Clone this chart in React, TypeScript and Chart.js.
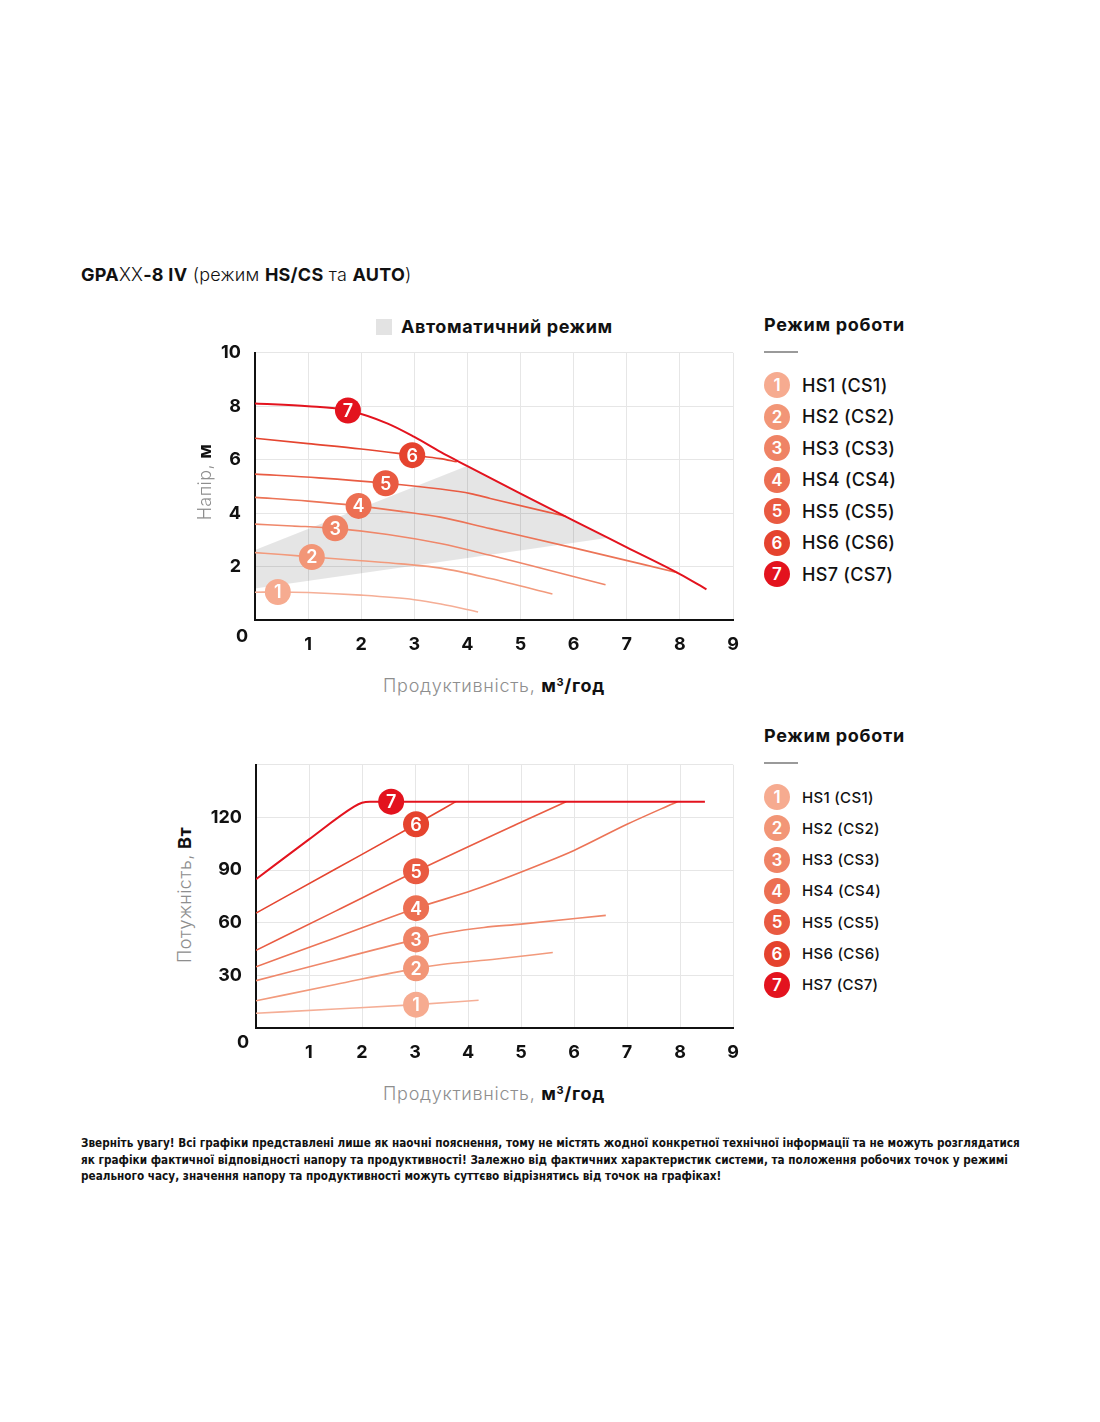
import React, { useEffect, useRef } from "react";
import { Chart, registerables } from "chart.js";

Chart.register(...registerables);

const FONT = "Inter, 'Noto Sans', 'DejaVu Sans', sans-serif";
const NARROW = "'Liberation Sans Narrow', 'DejaVu Sans Condensed', 'Roboto Condensed', sans-serif";

// ---- modes (legend) ----
const modeNumbers = ["1", "2", "3", "4", "5", "6", "7"];
const modeLabels = ["HS1 (CS1)", "HS2 (CS2)", "HS3 (CS3)", "HS4 (CS4)", "HS5 (CS5)", "HS6 (CS6)", "HS7 (CS7)"];
const modeColors = ["#F6AB90", "#F29677", "#EF8365", "#EC6F52", "#E95A41", "#E5432E", "#E3131E"];
const lineColors = ["#F5AE96", "#F29A7C", "#EF876A", "#EC7457", "#E95C43", "#E54530", "#E3131E"];

// ---- head chart: Q (m³/h) vs H (m) ----
const headHS1 = [[0, 1.04], [0.43, 1.05], [1, 1.03], [2, 0.93], [3, 0.76], [3.5, 0.6], [4.2, 0.3]];
const headHS2 = [[0, 2.52], [0.5, 2.45], [1.07, 2.36], [2, 2.22], [2.75, 2.1], [3.5, 1.94], [4.43, 1.55], [5.6, 0.97]];
const headHS3 = [[0, 3.59], [0.7, 3.52], [1.51, 3.43], [2.5, 3.2], [3.49, 2.86], [4.43, 2.42], [5.5, 1.88], [6.6, 1.32]];
const headHS4 = [[0, 4.59], [1, 4.45], [1.95, 4.27], [2.8, 4.05], [3.49, 3.85], [4.43, 3.42], [6, 2.7], [7.96, 1.77]];
const headHS5 = [[0, 5.46], [1.2, 5.32], [2.46, 5.12], [3.49, 4.9], [4.06, 4.73], [4.43, 4.55], [5.85, 3.88]];
const headHS6 = [[0, 6.8], [1, 6.6], [2, 6.4], [2.96, 6.17], [3.49, 6.04], [3.8, 5.92]];
const headHS7 = [[0, 8.1], [1, 8.0], [1.75, 7.84], [2.5, 7.35], [3, 6.85], [3.5, 6.28], [4, 5.76], [5, 4.73], [6, 3.72], [7, 2.72], [8, 1.72], [8.5, 1.15]];
const headMarkerQ = [0.43, 1.07, 1.51, 1.95, 2.46, 2.96, 1.75];
const autoZone = [[0, 2.62], [3.99, 5.76], [6.63, 3.07], [0, 1.18], [0, 2.62]];
const headTicksMax = 10;
const headTickStep = 2;

// ---- power chart: Q (m³/h) vs P (W) ----
const powerHS1 = [[0, 8.4], [1.5, 10.8], [3.02, 13.3], [4.2, 15.8]];
const powerHS2 = [[0, 15.5], [1.5, 24.8], [3.02, 34], [3.5, 36.2], [4.54, 39.3], [5.6, 43]];
const powerHS3 = [[0, 27], [1.5, 38.8], [3.02, 50.5], [3.6, 54.3], [4.3, 57.3], [5, 59.2], [6.6, 64.2]];
const powerHS4 = [[0, 34.9], [1.5, 51.5], [3.02, 68.3], [4.1, 78.6], [5.48, 94.6], [6, 101.2], [7, 116.1], [7.95, 129]];
const powerHS5 = [[0, 44.3], [1.5, 66.6], [3.02, 89.3], [4.98, 117], [5.85, 129]];
const powerHS6 = [[0, 65.5], [1.5, 90.6], [3.02, 116.1], [3.77, 129]];
const powerHS7 = [[0, 84.8], [1, 107.5], [1.85, 126.2], [2.0, 128.4], [2.15, 129], [2.55, 129], [8.47, 129]];
const powerMarkerQ = [3.02, 3.02, 3.02, 3.02, 3.02, 3.02, 2.55];
const powerTicksMax = 150;
const powerTickStep = 30;

const flowMax = 9;

const headSeries = [headHS1, headHS2, headHS3, headHS4, headHS5, headHS6, headHS7];
const powerSeries = [powerHS1, powerHS2, powerHS3, powerHS4, powerHS5, powerHS6, powerHS7];

const toXY = (arr: number[][]) => arr.map(([x, y]) => ({ x, y }));

const markerLabels = {
  id: "markerLabels",
  afterDatasetDraw(chart: any, args: any) {
    const ds = chart.data.datasets[args.index];
    if (ds.markerQ === undefined) return;
    const idx = ds.data.findIndex((p: any) => p.x === ds.markerQ);
    const el = args.meta.data[idx];
    if (!el) return;
    const ctx = chart.ctx;
    ctx.save();
    ctx.fillStyle = "#ffffff";
    ctx.font = `600 18px ${FONT}`;
    ctx.textAlign = "center";
    ctx.textBaseline = "middle";
    ctx.fillText(ds.markerText, el.x, el.y + 1);
    ctx.restore();
  },
};

const cornerZero = {
  id: "cornerZero",
  afterDraw(chart: any, _args: any, opts: any) {
    const { left, bottom } = chart.chartArea;
    const ctx = chart.ctx;
    ctx.save();
    ctx.fillStyle = "#111";
    ctx.font = `700 18px ${FONT}`;
    ctx.textAlign = "center";
    ctx.textBaseline = "middle";
    ctx.fillText("0", left - opts.dx, bottom + opts.dy);
    ctx.restore();
  },
};

function seriesDatasets(series: number[][][], markers: number[]) {
  return series.map((s, i) => ({
    label: modeLabels[i],
    data: toXY(s),
    borderColor: lineColors[i],
    backgroundColor: modeColors[i],
    borderWidth: i === 6 ? 2 : 1.6,
    cubicInterpolationMode: "monotone",
    fill: false,
    order: 7 - i,
    markerQ: markers[i],
    markerText: modeNumbers[i],
    pointRadius: (c: any) => (c.raw && c.raw.x === markers[i] ? 13 : 0),
    pointHoverRadius: (c: any) => (c.raw && c.raw.x === markers[i] ? 13 : 0),
    pointBackgroundColor: modeColors[i],
    pointBorderWidth: 0,
  }));
}

function makeOptions(p: {
  yMax: number;
  yStep: number;
  yWidth: number;
  xHeight: number;
  padTop: number;
  padRight: number;
  zeroDy: number;
}) {
  const tickFont = { family: FONT, size: 18, weight: 700 as any };
  return {
    animation: false,
    responsive: false,
    maintainAspectRatio: false,
    events: [],
    layout: { padding: { top: p.padTop, right: p.padRight, left: 0, bottom: 0 } },
    plugins: {
      legend: { display: false },
      tooltip: { enabled: false },
      cornerZero: { dx: 13, dy: p.zeroDy },
    },
    scales: {
      x: {
        type: "linear",
        min: 0,
        max: flowMax,
        ticks: {
          stepSize: 1,
          padding: 14,
          color: "#111",
          font: tickFont,
          maxRotation: 0,
          autoSkip: false,
          callback: (v: any) => (v === 0 ? "" : String(v)),
        },
        grid: { color: "#e6e6e6", lineWidth: 1, drawTicks: false },
        border: { color: "#111", width: 2 },
        afterFit: (s: any) => {
          s.height = p.xHeight;
        },
      },
      y: {
        type: "linear",
        min: 0,
        max: p.yMax,
        ticks: {
          stepSize: p.yStep,
          padding: 14,
          color: "#111",
          font: tickFont,
          autoSkip: false,
          callback: (v: any) => (v === 0 || (p.yMax === 150 && v === 150) ? "" : String(v)),
        },
        grid: { color: "#e6e6e6", lineWidth: 1, drawTicks: false },
        border: { color: "#111", width: 2 },
        afterFit: (s: any) => {
          s.width = p.yWidth;
        },
      },
    },
  };
}

function headConfig(): any {
  return {
    type: "line",
    data: {
      datasets: [
        ...seriesDatasets(headSeries, headMarkerQ),
        {
          label: "Автоматичний режим",
          data: toXY(autoZone),
          borderWidth: 0,
          borderColor: "rgba(0,0,0,0)",
          backgroundColor: "rgba(0,0,0,0.1)",
          fill: "shape",
          tension: 0,
          pointRadius: 0,
          order: 100,
        },
      ],
    },
    options: makeOptions({ yMax: headTicksMax, yStep: headTickStep, yWidth: 55, xHeight: 50, padTop: 24, padRight: 27, zeroDy: 17 }),
    plugins: [markerLabels, cornerZero],
  };
}

function powerConfig(): any {
  return {
    type: "line",
    data: { datasets: seriesDatasets(powerSeries, powerMarkerQ) },
    options: makeOptions({ yMax: powerTicksMax, yStep: powerTickStep, yWidth: 56, xHeight: 52, padTop: 24, padRight: 27, zeroDy: 15 }),
    plugins: [markerLabels, cornerZero],
  };
}

function ChartCanvas({ config, left, top, width, height }: any) {
  const ref = useRef<HTMLCanvasElement>(null);
  useEffect(() => {
    const chart = new Chart(ref.current as HTMLCanvasElement, config());
    return () => chart.destroy();
  }, []);
  return (
    <canvas
      ref={ref}
      width={width}
      height={height}
      style={{ position: "absolute", left, top, width, height }}
    />
  );
}

function ModeLegend({ top, itemTop, step, fontSize }: any) {
  return (
    <div style={{ position: "absolute", left: 764, top }}>
      <div style={{ fontSize: 18, fontWeight: 700, lineHeight: "22px", whiteSpace: "nowrap", letterSpacing: "0.7px" }}>Режим роботи</div>
      <div style={{ position: "absolute", left: 0, top: 37, width: 34, height: 1.5, background: "#9a9a9a" }} />
      {modeLabels.map((lab, i) => (
        <div key={lab} style={{ position: "absolute", left: 0, top: itemTop + i * step - 13, height: 26, display: "flex", alignItems: "center", whiteSpace: "nowrap" }}>
          <div
            style={{
              width: 26,
              height: 26,
              borderRadius: 13,
              background: modeColors[i],
              color: "#fff",
              fontSize: 17,
              fontWeight: 600,
              display: "flex",
              alignItems: "center",
              justifyContent: "center",
            }}
          >
            {modeNumbers[i]}
          </div>
          <div style={{ marginLeft: 12, fontSize, fontWeight: 500, letterSpacing: "0.3px" }}>{lab}</div>
        </div>
      ))}
    </div>
  );
}

function AxisTitleX({ top }: any) {
  return (
    <div style={{ position: "absolute", left: 294, top, width: 400, textAlign: "center", fontSize: 18, lineHeight: "22px", whiteSpace: "nowrap", letterSpacing: "0.7px" }}>
      <span style={{ color: "#8e8e8e", fontWeight: 300 }}>Продуктивність, </span>
      <span style={{ fontWeight: 700 }}>
        м<sup style={{ fontSize: 11, verticalAlign: "6px", lineHeight: 0 }}>3</sup>/год
      </span>
    </div>
  );
}

function AxisTitleY({ cx, cy, light, bold }: any) {
  return (
    <div
      style={{
        position: "absolute",
        left: cx - 120,
        top: cy - 11,
        width: 240,
        height: 22,
        lineHeight: "22px",
        textAlign: "center",
        fontSize: 18,
        transform: "rotate(-90deg)",
        whiteSpace: "nowrap",
        letterSpacing: "0.4px",
      }}
    >
      <span style={{ color: "#8e8e8e", fontWeight: 300 }}>{light}</span>
      <span style={{ fontWeight: 700 }}>{bold}</span>
    </div>
  );
}

export default function App() {
  return (
    <div style={{ position: "absolute", left: 0, top: 0, width: 1100, height: 1422, background: "#fff", fontFamily: FONT, color: "#111" }}>
      <div style={{ position: "absolute", left: 81, top: 263, fontSize: 18, lineHeight: "24px", whiteSpace: "nowrap", letterSpacing: "0.25px" }}>
        <span style={{ fontWeight: 700 }}>GPA</span>
        <span style={{ fontWeight: 300 }}>XX</span>
        <span style={{ fontWeight: 700 }}>-8 IV</span>
        <span style={{ fontWeight: 300 }}> (режим </span>
        <span style={{ fontWeight: 700 }}>HS/CS</span>
        <span style={{ fontWeight: 300 }}> та </span>
        <span style={{ fontWeight: 700 }}>AUTO</span>
        <span style={{ fontWeight: 300 }}>)</span>
      </div>

      {/* auto-mode legend */}
      <div style={{ position: "absolute", left: 376, top: 319, width: 16, height: 16, background: "#e3e3e3" }} />
      <div style={{ position: "absolute", left: 401, top: 316, fontSize: 18, fontWeight: 700, lineHeight: "22px", whiteSpace: "nowrap", letterSpacing: "0.6px" }}>
        Автоматичний режим
      </div>

      <ChartCanvas config={headConfig} left={200} top={328} width={560} height={342} />
      <AxisTitleY cx={205} cy={482} light="Напір, " bold="м" />
      <AxisTitleX top={675} />
      <ModeLegend top={314} itemTop={71} step={31.5} fontSize={18} />

      <ChartCanvas config={powerConfig} left={200} top={740} width={560} height={340} />
      <AxisTitleY cx={185} cy={895} light="Потужність, " bold="Вт" />
      <AxisTitleX top={1083} />
      <ModeLegend top={725} itemTop={72} step={31.3} fontSize={15} />

      <div
        style={{
          position: "absolute",
          left: 81,
          top: 1135,
          fontFamily: NARROW,
          fontWeight: 700,
          fontSize: 12.5,
          lineHeight: "16.5px",
          whiteSpace: "nowrap",
          color: "#111",
          transform: "scaleX(0.933)",
          transformOrigin: "0 0",
        }}
      >
        Зверніть увагу! Всі графіки представлені лише як наочні пояснення, тому не містять жодної конкретної технічної інформації та не можуть розглядатися
        <br />
        як графіки фактичної відповідності напору та продуктивності! Залежно від фактичних характеристик системи, та положення робочих точок у режимі
        <br />
        реального часу, значення напору та продуктивності можуть суттєво відрізнятись від точок на графіках!
      </div>
    </div>
  );
}
